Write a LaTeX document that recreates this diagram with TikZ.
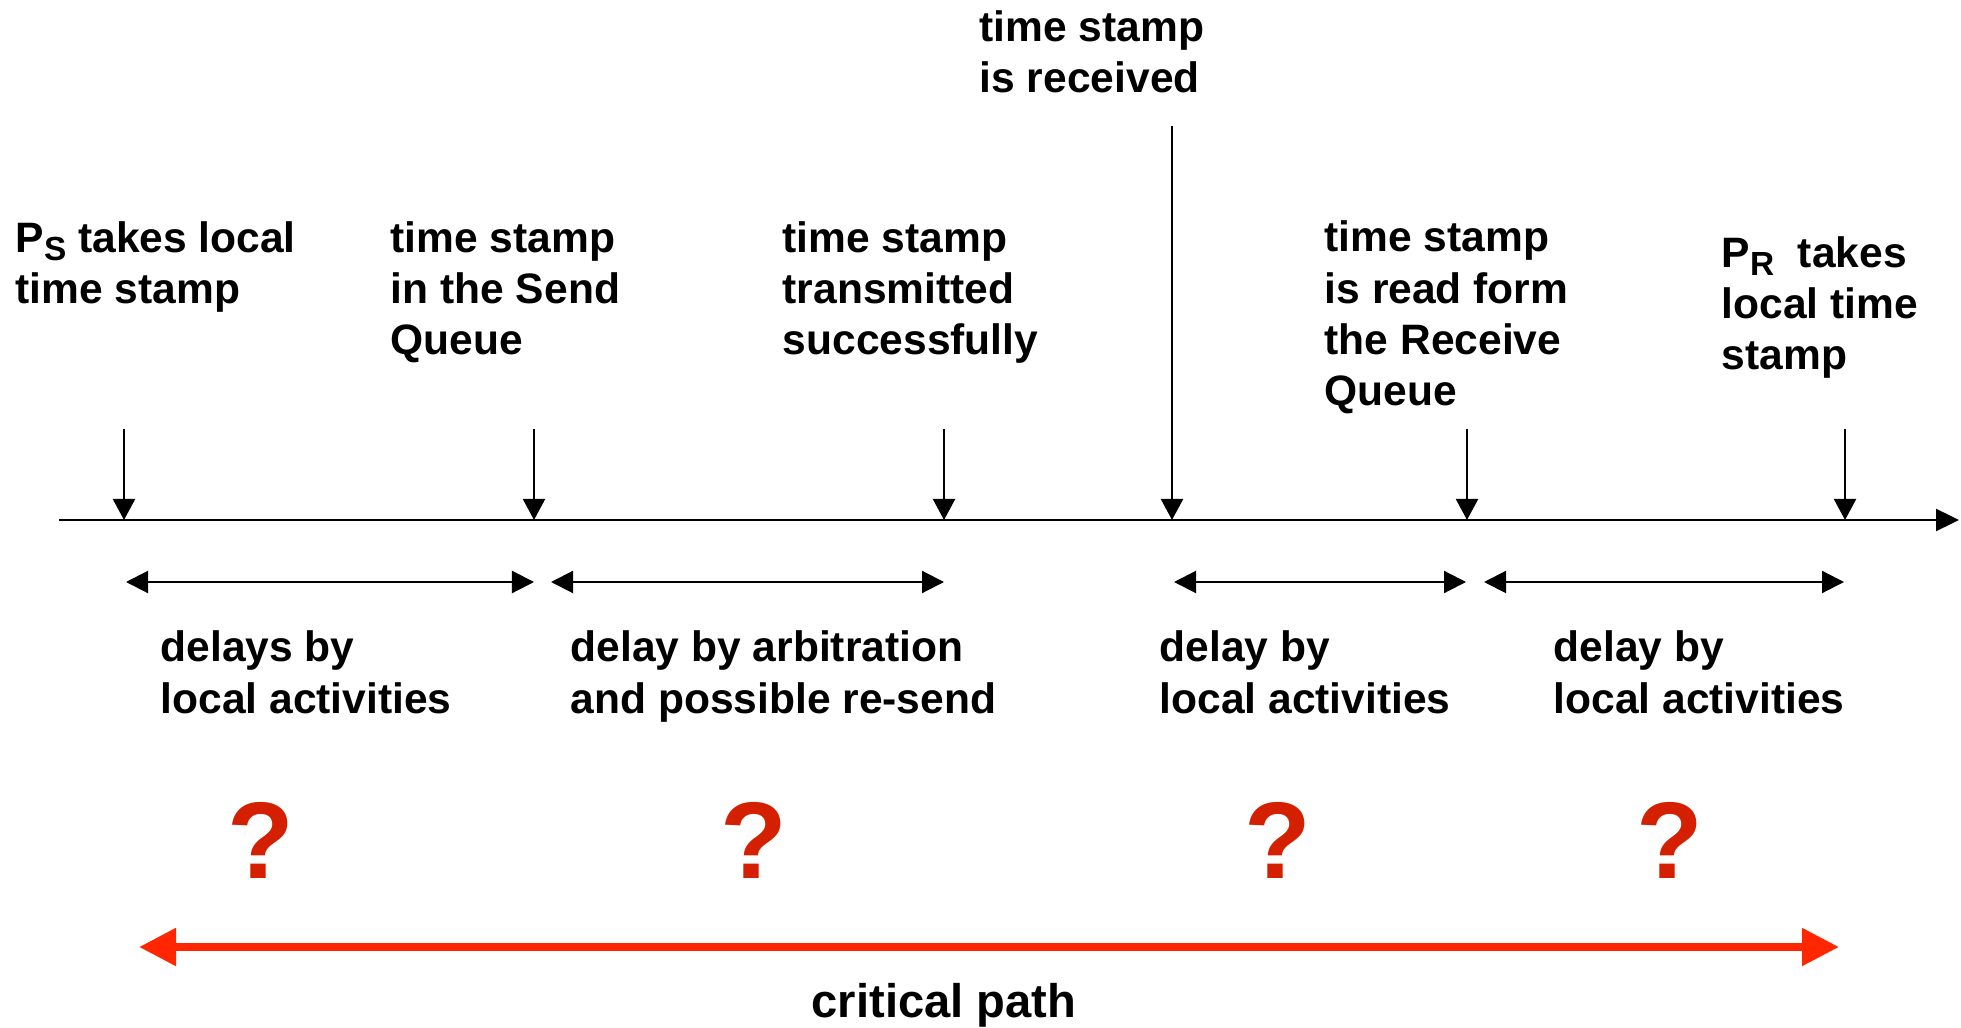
\documentclass[tikz,border=0pt]{standalone}
\usepackage{fontspec}
\setmainfont{Liberation Sans}
\usetikzlibrary{arrows.meta}
\definecolor{qred}{RGB}{212,32,0}
\definecolor{pathred}{RGB}{255,38,0}
\newcommand{\mysub}[1]{\raisebox{-0.35ex}{\fontsize{9.5}{10}\selectfont #1}}
\begin{document}
\begin{tikzpicture}[x=0.01cm,y=-0.01cm,
  lbl/.style={inner sep=0pt,anchor=base west,align=left,font=\bfseries\fontsize{12.1}{14.6}\selectfont},
  qmark/.style={inner sep=0pt,text=qred,font=\bfseries\fontsize{31}{31}\selectfont},
  tick/.style={line width=0.6pt,-{Triangle[length=0.21cm,width=0.22cm]}},
  axis/.style={line width=0.65pt,-{Triangle[length=0.23cm,width=0.22cm]}},
  span/.style={line width=0.6pt,{Triangle[length=0.22cm,width=0.22cm]}-{Triangle[length=0.22cm,width=0.22cm]}},
  crit/.style={draw=pathred,line width=2.3pt,{Triangle[length=0.37cm,width=0.36cm]}-{Triangle[length=0.37cm,width=0.36cm]}}]
\useasboundingbox (0,0) rectangle (1961,1028);
% timeline
\coordinate (L) at (59,520);
\coordinate (R) at (1959,520);
\draw[axis] (L) -- (R);
% tick points
\foreach \n/\x in {1/124,2/534,3/944,5/1467,6/1845}{
  \coordinate (s\n) at (\x,429);
  \coordinate (t\n) at (\x,520);
  \draw[tick] (s\n) -- (t\n);
}
\coordinate (s4) at (1172,126);
\coordinate (t4) at (1172,520);
\draw[tick] (s4) -- (t4);
% top labels (anchor = baseline of last line)
\node[lbl] (la) at (15,304) {P\mysub{S} takes local\\time stamp};
\node[lbl] (lb) at (390,355) {time stamp\\in the Send\\Queue};
\node[lbl] (lc) at (782,355) {time stamp\\transmitted\\successfully};
\node[lbl] (ld) at (979,93) {time stamp\\is received};
\node[lbl] (le) at (1324,406) {time stamp\\is read form\\the Receive\\Queue};
\node[lbl] (lf) at (1721,370) {P\mysub{R}\ \ takes\\local time\\stamp};
% spans
\coordinate (a1) at (126,582); \coordinate (b1) at (534,582);
\coordinate (a2) at (551,582); \coordinate (b2) at (944,582);
\coordinate (a3) at (1174,582); \coordinate (b3) at (1466,582);
\coordinate (a4) at (1484,582); \coordinate (b4) at (1844,582);
\foreach \i in {1,2,3,4}{\draw[span] (a\i) -- (b\i);}
% bottom labels
\node[lbl] (d1) at (160,713) {delays by\\local activities};
\node[lbl] (d2) at (570,713) {delay by arbitration\\and possible re-send};
\node[lbl] (d3) at (1159,713) {delay by\\local activities};
\node[lbl] (d4) at (1553,713) {delay by\\local activities};
% question marks
\node[qmark] (q1) at (261,840) {?};
\node[qmark] (q2) at (754,840) {?};
\node[qmark] (q3) at (1278,840) {?};
\node[qmark] (q4) at (1670,840) {?};
% critical path
\coordinate (c1) at (139,947);
\coordinate (c2) at (1839,947);
\draw[crit] (c1) -- (c2);
\node[inner sep=0pt,anchor=base,font=\bfseries\fontsize{13.4}{16}\selectfont] (cp) at (944,1017) {critical path};
\end{tikzpicture}
\end{document}
